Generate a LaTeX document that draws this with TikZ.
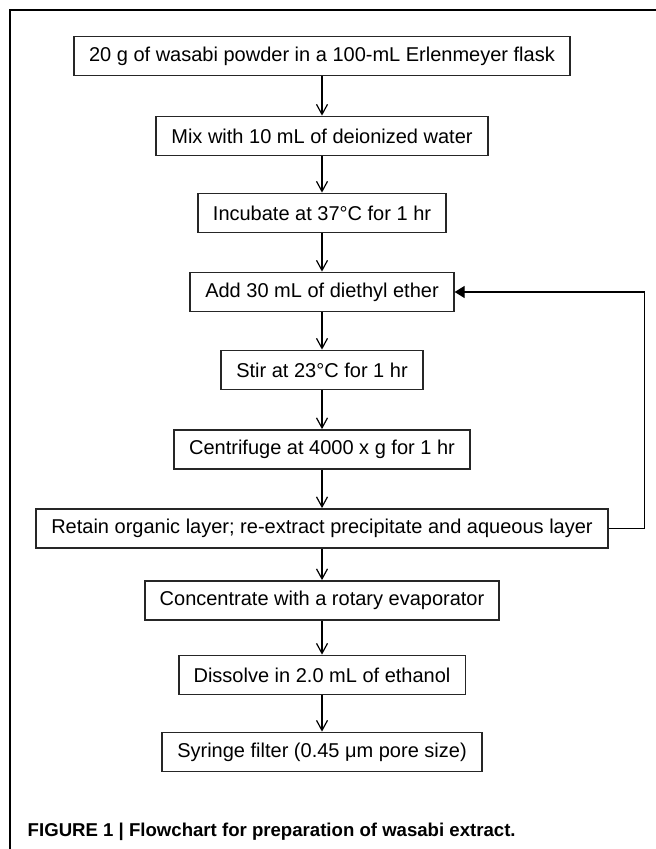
\documentclass[tikz,border=0pt]{standalone}
\usepackage{fontspec}
\setmainfont{Liberation Sans}
\usetikzlibrary{arrows.meta}
\tikzset{every picture/.style={line width=0.75pt}}
\tikzset{stepbox/.style={draw=black!85, line width=0.9pt, minimum height=19.5pt, inner xsep=7.5pt, font=\fontsize{10}{12}\selectfont},
  flow/.style={-{Straight Barb[length=5pt,width=5.5pt]}, line width=0.6pt},
  back/.style={-{Triangle[length=5pt,width=6pt]}, line width=0.6pt}}

\begin{document}
\begin{tikzpicture}[x=0.5pt,y=-0.5pt]
	\useasboundingbox (0,0) rectangle (656,849);
	\draw[line width=0.6pt] (10,849) -- (10,10) -- (656,10);
	%
	\node[stepbox] (flask) at (322,56) {20 g of wasabi powder in a 100-mL Erlenmeyer flask};
	\node[stepbox] (mix) at (322,136) {Mix with 10 mL of deionized water};
	\node[stepbox] (incub) at (322,213) {Incubate at 37°C for 1 hr};
	\node[stepbox] (ether) at (322,292) {Add 30 mL of diethyl ether};
	\node[stepbox] (stir) at (322,370) {Stir at 23°C for 1 hr};
	\node[stepbox] (centri) at (322,449.5) {Centrifuge at 4000 x g for 1 hr};
	\node[stepbox] (retain) at (322,528.5) {Retain organic layer; re-extract precipitate and aqueous layer};
	\node[stepbox] (conc) at (322,600.5) {Concentrate with a rotary evaporator};
	\node[stepbox] (dissolve) at (322,675) {Dissolve in 2.0 mL of ethanol};
	\node[stepbox] (filter) at (322,752) {Syringe filter (0.45 μm pore size)};
	%
	\draw[flow] (flask) -- (mix);
	\draw[flow] (mix) -- (incub);
	\draw[flow] (incub) -- (ether);
	\draw[flow] (ether) -- (stir);
	\draw[flow] (stir) -- (centri);
	\draw[flow] (centri) -- (retain);
	\draw[flow] (retain) -- (conc);
	\draw[flow] (conc) -- (dissolve);
	\draw[flow] (dissolve) -- (filter);
	\draw[back] (retain.east) -- ++(36,0) |- (ether.east);
	%
	\node[anchor=west, inner sep=0pt, font=\fontsize{9.3}{11}\selectfont\bfseries] (caption) at (27,832) {FIGURE 1 | Flowchart for preparation of wasabi extract.};
\end{tikzpicture}
\end{document}
